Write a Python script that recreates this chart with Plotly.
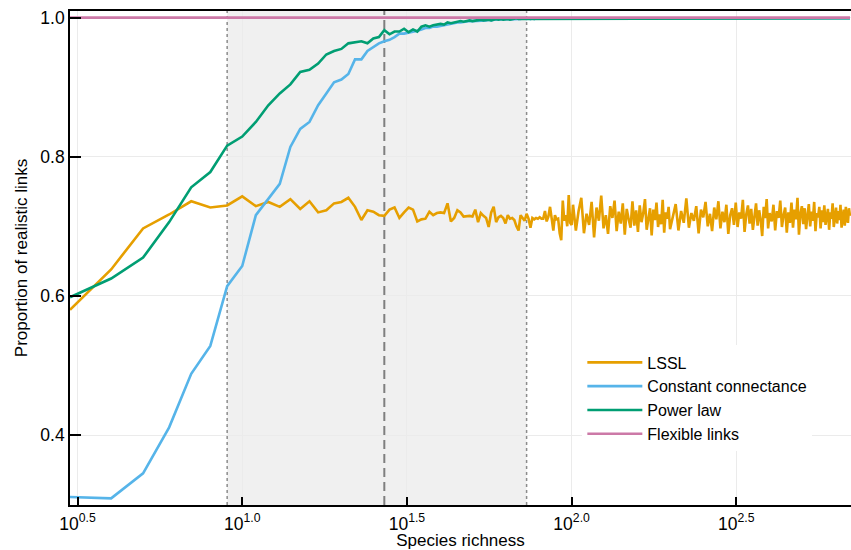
import math
import plotly.graph_objects as go

# ---------------- data ----------------
richness_low = list(range(3, 101))                      # 3..100
richness_hi_lssl = (list(range(101, 201, 2)) + list(range(203, 401, 4))
                    + list(range(405, 701, 5)))
richness_hi_cp = list(range(110, 701, 10))

lssl_low = [
    0.580, 0.638, 0.697, 0.717, 0.736, 0.727, 0.730, 0.743,
    0.729, 0.735, 0.728, 0.739, 0.725, 0.736, 0.720, 0.723, 0.733, 0.735,
    0.741, 0.728, 0.709, 0.723, 0.721, 0.716, 0.715, 0.724, 0.727, 0.712,
    0.720, 0.727, 0.724, 0.707, 0.710, 0.711, 0.721, 0.716, 0.719, 0.720,
    0.719, 0.733, 0.707, 0.712, 0.723, 0.720, 0.714, 0.715, 0.715, 0.714,
    0.724, 0.706, 0.719, 0.715, 0.712, 0.699, 0.720, 0.728, 0.706, 0.713,
    0.715, 0.712, 0.704, 0.716, 0.711, 0.712, 0.709, 0.700, 0.694, 0.716,
    0.712, 0.708, 0.718, 0.711, 0.698, 0.712, 0.710, 0.712, 0.711, 0.713,
    0.711, 0.711, 0.722, 0.707, 0.714, 0.728, 0.711, 0.694, 0.716, 0.710,
    0.711, 0.690, 0.680, 0.737, 0.708, 0.716, 0.700, 0.745, 0.705, 0.702,
]
lssl_hi = [
    0.731, 0.694, 0.722, 0.741, 0.690, 0.718, 0.702, 0.735, 0.684, 0.727,
    0.708, 0.744, 0.697, 0.716, 0.689, 0.729, 0.712, 0.737, 0.693, 0.721,
    0.704, 0.733, 0.688, 0.725, 0.710, 0.698, 0.736, 0.701, 0.723, 0.692,
    0.730, 0.706, 0.719, 0.739, 0.695, 0.714, 0.726, 0.687, 0.724, 0.709,
    0.734, 0.699, 0.717, 0.703, 0.738, 0.691, 0.720, 0.711, 0.728, 0.696,
    0.715, 0.732, 0.694, 0.722, 0.705, 0.740, 0.698, 0.719, 0.708, 0.729,
    0.690, 0.724, 0.713, 0.735, 0.700, 0.718, 0.693, 0.727, 0.710, 0.736,
    0.697, 0.721, 0.706, 0.731, 0.689, 0.716, 0.726, 0.702, 0.734, 0.699,
    0.720, 0.711, 0.738, 0.692, 0.717, 0.730, 0.704, 0.725, 0.695, 0.714,
    0.733, 0.701, 0.723, 0.709, 0.686, 0.728, 0.712, 0.739, 0.697, 0.719,
    0.707, 0.731, 0.694, 0.722, 0.712, 0.737, 0.699, 0.716, 0.727, 0.691,
    0.720, 0.705, 0.734, 0.698, 0.724, 0.710, 0.741, 0.688, 0.718, 0.729,
    0.703, 0.726, 0.696, 0.715, 0.732, 0.700, 0.721, 0.708, 0.735, 0.693,
    0.719, 0.713, 0.728, 0.697, 0.723, 0.706, 0.730, 0.702, 0.717, 0.725,
    0.695, 0.720, 0.711, 0.733, 0.699, 0.714, 0.727, 0.704, 0.722, 0.709,
    0.731, 0.698, 0.716, 0.724, 0.701, 0.728, 0.712, 0.705, 0.726, 0.715,
]

constant_low = [
    0.311, 0.309, 0.345, 0.411, 0.488, 0.528, 0.614, 0.643,
    0.716, 0.740, 0.761, 0.814, 0.840, 0.850, 0.874, 0.891, 0.907, 0.911,
    0.919, 0.940, 0.940, 0.952, 0.958, 0.963, 0.966, 0.968, 0.972, 0.977,
    0.977, 0.978, 0.980, 0.981, 0.983, 0.985, 0.985, 0.987, 0.987, 0.988,
    0.989, 0.991, 0.991, 0.992, 0.993, 0.993, 0.994, 0.994, 0.995, 0.995,
    0.995, 0.996, 0.995, 0.996, 0.996, 0.997, 0.996, 0.997, 0.997, 0.997,
    0.998, 0.997, 0.998, 0.997, 0.998, 0.998, 0.997, 0.998, 0.998, 0.998,
    0.999, 0.998, 0.998, 0.999, 0.998, 0.999, 0.998, 0.999, 0.999, 0.998,
    0.999, 0.998, 0.999, 0.999, 0.998, 0.999, 0.999, 0.999, 0.998, 0.999,
    0.999, 0.999, 0.998, 0.999, 0.999, 0.999, 0.999, 0.998, 0.999, 0.999,
]
constant_hi = [
    0.999, 0.998, 0.999, 0.999, 0.998, 0.999, 0.999, 0.999, 0.998, 0.999,
    0.999, 0.999, 0.998, 0.999, 0.999, 0.998, 0.999, 0.999, 0.999, 0.998,
    0.999, 0.999, 0.998, 0.999, 0.999, 0.999, 0.998, 0.999, 0.999, 0.999,
    0.998, 0.999, 0.999, 0.999, 0.998, 0.999, 0.999, 0.998, 0.999, 0.999,
    0.999, 0.998, 0.999, 0.999, 0.999, 0.998, 0.999, 0.999, 0.998, 0.999,
    0.999, 0.999, 0.998, 0.999, 0.999, 0.999, 0.998, 0.999, 0.999, 0.999,
]

power_low = [
    0.598, 0.625, 0.655, 0.706, 0.756, 0.778, 0.816, 0.829,
    0.850, 0.874, 0.891, 0.904, 0.922, 0.925, 0.934, 0.947, 0.952, 0.955,
    0.963, 0.964, 0.966, 0.963, 0.970, 0.972, 0.982, 0.976, 0.980, 0.980,
    0.984, 0.979, 0.983, 0.980, 0.987, 0.989, 0.987, 0.989, 0.990, 0.991,
    0.990, 0.993, 0.992, 0.993, 0.994, 0.995, 0.994, 0.995, 0.996, 0.995,
    0.996, 0.996, 0.997, 0.996, 0.997, 0.997, 0.996, 0.997, 0.998, 0.997,
    0.998, 0.997, 0.998, 0.998, 0.997, 0.998, 0.998, 0.999, 0.998, 0.998,
    0.999, 0.998, 0.999, 0.998, 0.999, 0.999, 0.998, 0.999, 0.999, 0.999,
    0.998, 0.999, 0.999, 0.999, 0.998, 0.999, 0.999, 0.999, 0.999, 0.998,
    0.999, 0.999, 0.999, 0.999, 0.999, 0.998, 0.999, 0.999, 0.999, 0.999,
]
power_hi = [
    0.999, 0.999, 0.998, 0.999, 0.999, 0.999, 0.998, 0.999, 0.999, 0.999,
    0.999, 0.998, 0.999, 0.999, 0.999, 0.999, 0.998, 0.999, 0.999, 0.999,
    0.998, 0.999, 0.999, 0.999, 0.999, 0.998, 0.999, 0.999, 0.999, 0.999,
    0.999, 0.998, 0.999, 0.999, 0.999, 0.998, 0.999, 0.999, 0.999, 0.999,
    0.998, 0.999, 0.999, 0.999, 0.999, 0.999, 0.998, 0.999, 0.999, 0.999,
    0.999, 0.998, 0.999, 0.999, 0.999, 0.999, 0.998, 0.999, 0.999, 0.999,
]

flexible_richness = [3, 700]
flexible_values = [1.0, 1.0]

shade_range = [9, 73]
dashed_at = 27

x_tickvals = [10 ** 0.5, 10 ** 1.0, 10 ** 1.5, 10 ** 2.0, 10 ** 2.5]
x_ticktext = ["10<sup>0.5</sup>", "10<sup>1.0</sup>", "10<sup>1.5</sup>",
              "10<sup>2.0</sup>", "10<sup>2.5</sup>"]
y_tickvals = [0.4, 0.6, 0.8, 1.0]
y_ticktext = ["0.4", "0.6", "0.8", "1.0"]

assert len(lssl_low) == len(richness_low) == len(constant_low) == len(power_low)
assert len(lssl_hi) == len(richness_hi_lssl), (len(lssl_hi), len(richness_hi_lssl))
assert len(constant_hi) == len(power_hi) == len(richness_hi_cp)

# ---------------- figure ----------------
FONT = "Liberation Sans, Arial, sans-serif"
fig = go.Figure()
lw = 2.6
fig.add_trace(go.Scatter(x=richness_low + richness_hi_lssl, y=lssl_low + lssl_hi,
                         mode="lines", name="LSSL",
                         line=dict(color="#E69F00", width=lw)))
fig.add_trace(go.Scatter(x=richness_low + richness_hi_cp, y=constant_low + constant_hi,
                         mode="lines", name="Constant connectance",
                         line=dict(color="#56B4E9", width=lw)))
fig.add_trace(go.Scatter(x=richness_low + richness_hi_cp, y=power_low + power_hi,
                         mode="lines", name="Power law",
                         line=dict(color="#009E73", width=lw)))
fig.add_trace(go.Scatter(x=flexible_richness, y=flexible_values,
                         mode="lines", name="Flexible links",
                         line=dict(color="#CC79A7", width=lw)))

fig.add_shape(type="rect", xref="x", yref="paper", x0=shade_range[0], x1=shade_range[1],
              y0=0, y1=1, fillcolor="#f0f0f0", line=dict(width=0), layer="below")
for xv in shade_range:
    fig.add_shape(type="line", xref="x", yref="paper", x0=xv, x1=xv, y0=0, y1=1,
                  line=dict(color="#8c8c8c", width=1.5, dash="dot"), layer="between")
fig.add_shape(type="line", xref="x", yref="paper", x0=dashed_at, x1=dashed_at, y0=0, y1=1,
              line=dict(color="#7f7f7f", width=2, dash="9px,5px"), layer="between")

fig.update_layout(
    width=851, height=550,
    margin=dict(l=70, r=0, t=11, b=45),
    paper_bgcolor="white", plot_bgcolor="white",
    font=dict(family=FONT, size=17, color="black"),
    showlegend=True,
    legend=dict(x=0.656, y=0.323, xanchor="left", yanchor="top",
                bgcolor="white", borderwidth=0, font=dict(size=16),
                itemwidth=55, tracegroupgap=0),
    xaxis=dict(type="log", range=[math.log10(3), math.log10(705)],
               tickvals=x_tickvals, ticktext=x_ticktext,
               ticks="inside", ticklen=8, tickwidth=1.6, tickcolor="black",
               showline=True, linecolor="black", linewidth=1.6, mirror=True,
               showgrid=True, gridcolor="#ebebeb", gridwidth=1,
               tickfont=dict(size=17.5), zeroline=False, ticklabelstandoff=2,
               title=dict(text="Species richness", font=dict(size=17), standoff=3)),
    yaxis=dict(range=[0.2994, 1.0095],
               tickvals=y_tickvals, ticktext=y_ticktext,
               ticks="inside", ticklen=11, tickwidth=1.6, tickcolor="black",
               showline=True, linecolor="black", linewidth=1.6,
               showgrid=True, gridcolor="#ebebeb", gridwidth=1,
               tickfont=dict(size=17.5), zeroline=False,
               title=dict(text="Proportion of realistic links", font=dict(size=17), standoff=8)),
)

fig.write_html("out.html")
